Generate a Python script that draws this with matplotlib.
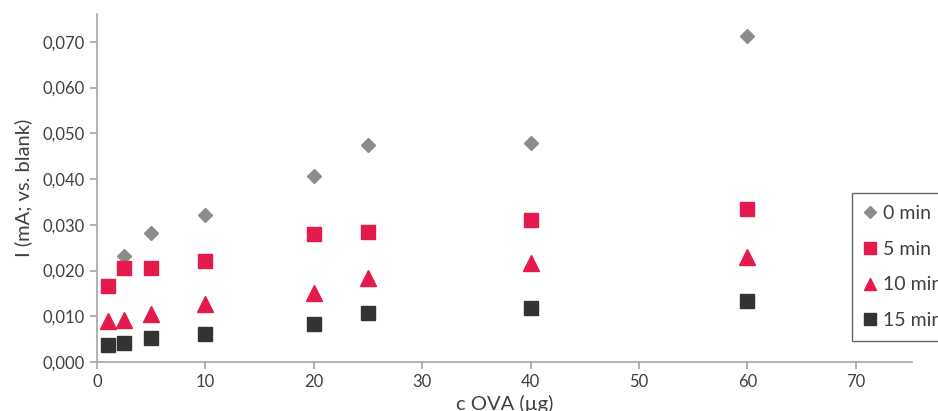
import matplotlib
matplotlib.use("Agg")
import matplotlib.pyplot as plt
from matplotlib.ticker import FuncFormatter, MultipleLocator

plt.rcParams['font.family'] = ['Lato', 'DejaVu Sans']

x_vals = [1, 2.5, 5, 10, 20, 25, 40, 60]
x_0min = [2.5, 5, 10, 20, 25, 40, 60]
y_0min = [0.0232, 0.0282, 0.0322, 0.0407, 0.0475, 0.0479, 0.0713]
y_5min = [0.0166, 0.0206, 0.0206, 0.0221, 0.0280, 0.0284, 0.0311, 0.0335]
y_10min = [0.0090, 0.0092, 0.0105, 0.0127, 0.0151, 0.0184, 0.0217, 0.0230]
y_15min = [0.0037, 0.0042, 0.0052, 0.0061, 0.0083, 0.0107, 0.0118, 0.0133]
series_labels = ['0 min', '5 min', '10 min', '15 min']

fig = plt.figure(figsize=(9.38, 4.11), dpi=100)
ax = fig.add_axes([97/938, 1-362/411, (912-97)/938, (362-14)/411])

text_color = '#404040'
red = '#E41A4A'
ax.plot(x_0min, y_0min, linestyle='none', marker='D', ms=7, color='#8C8C8C', label=series_labels[0])
ax.plot(x_vals, y_5min, linestyle='none', marker='s', ms=10.5, color=red, label=series_labels[1])
ax.plot(x_vals, y_10min, linestyle='none', marker='^', ms=11, color=red, label=series_labels[2])
ax.plot(x_vals, y_15min, linestyle='none', marker='s', ms=10, color='#333333', label=series_labels[3])

ax.set_xlim(0, 75.2)
ax.set_ylim(0, 0.0761)
ax.set_xticks(range(0, 71, 10))
ax.yaxis.set_major_locator(MultipleLocator(0.01))
ax.yaxis.set_major_formatter(FuncFormatter(lambda v, p: f"{v:.3f}".replace('.', ',')))

for s in ['top', 'right']:
    ax.spines[s].set_visible(False)
for s in ['left', 'bottom']:
    ax.spines[s].set_color('#A6A6A6')
    ax.spines[s].set_linewidth(1.2)
ax.tick_params(axis='both', direction='out', length=5, color='#A6A6A6', width=1.2,
               labelsize=12, labelcolor=text_color)

ax.set_xlabel('c OVA (µg)', fontsize=14.5, color=text_color, labelpad=0)
ax.xaxis.set_label_coords((505-97)/(912-97), -0.095)
ax.set_ylabel('I (mA; vs. blank)', fontsize=14.5, color=text_color)
ax.yaxis.set_label_coords(-0.08, 0.5)

leg = fig.legend(loc='upper left', bbox_to_anchor=(852/938, 1-193/411),
                 frameon=True, fancybox=False, fontsize=14, handlelength=0.7,
                 handletextpad=0.3, labelspacing=0.97, borderpad=0.6,
                 borderaxespad=0, markerscale=0.85, labelcolor=text_color)
leg.get_frame().set_edgecolor('#404040')
leg.get_frame().set_linewidth(1.0)

fig.savefig('out.png', dpi=100)
